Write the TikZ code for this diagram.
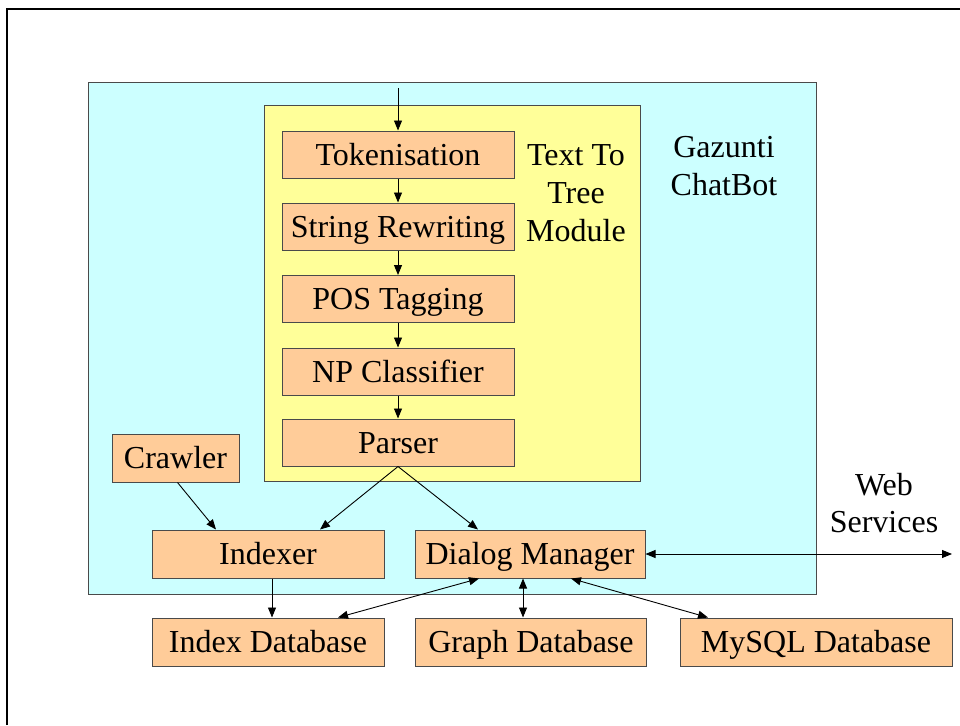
\documentclass[tikz,border=0pt]{standalone}
\usepackage{fontspec}
\setmainfont{Liberation Serif}
\usetikzlibrary{arrows.meta,calc}
\definecolor{cyanbg}{HTML}{CCFFFF}
\definecolor{yellowbg}{HTML}{FFFF99}
\definecolor{orangebox}{HTML}{FFCC99}
\definecolor{edge}{HTML}{4A4A4A}
\begin{document}
\begin{tikzpicture}[x=1pt,y=-1pt,
  box/.style={draw=edge,line width=1pt,fill=orangebox,minimum width=232pt,minimum height=47pt,inner sep=0pt,text height=27pt,text depth=6pt,font=\fontsize{32}{38}\selectfont},
  lbl/.style={align=center,inner sep=0pt},
  arr/.style={-{Triangle[length=10pt,width=8pt]},line width=0.9pt},
  darr/.style={{Triangle[length=10pt,width=8pt]}-{Triangle[length=10pt,width=8pt]},line width=0.9pt}]
\useasboundingbox (0,0) rectangle (960,725);
% outer frame (left and top only)
\draw[line width=2.2pt] (7,725) -- (7,9) -- (960,9);
% containers
\draw[draw=edge,line width=1pt,fill=cyanbg] (88,82) rectangle (816,594);
\draw[draw=edge,line width=1pt,fill=yellowbg] (264,105) rectangle (640,481);
% pipeline
\node[box] (tok) at (398,154.5) {Tokenisation};
\node[box] (str) at (398,226.5) {String Rewriting};
\node[box] (pos) at (398,299) {POS Tagging};
\node[box] (np) at (398,371.5) {NP Classifier};
\node[box] (par) at (398,442.5) {Parser};
\node[box,minimum width=127pt,minimum height=48pt] (cra) at (175.5,458) {Crawler};
\node[box,minimum height=48pt] (idx) at (268,554) {Indexer};
\node[box,minimum width=230pt,minimum height=48pt] (dm) at (530,554) {Dialog Manager};
\node[box,minimum height=48pt] (idb) at (268,642) {Index Database};
\node[box,minimum width=231pt,minimum height=48pt] (gdb) at (531,642) {Graph Database};
\node[box,minimum width=272pt,minimum height=48pt] (mdb) at (816,642) {MySQL Database};
% labels
\node[lbl,font=\fontsize{32}{38}\selectfont] (ttt) at (576,193) {Text To\\Tree\\Module};
\node[lbl,font=\fontsize{32}{38}\selectfont] (gaz) at (724,166) {Gazunti\\ChatBot};
\node[lbl,font=\fontsize{32}{37}\selectfont] (web) at (884,503) {Web\\Services};
% connectors
\coordinate (in) at (398,88);
\coordinate (wsend) at (952,554);
\draw[arr] (in) -- (tok.north);
\draw[arr] (tok) -- (str);
\draw[arr] (str) -- (pos);
\draw[arr] (pos) -- (np);
\draw[arr] (np) -- (par);
\draw[arr] (par.south) -- ([xshift=52pt]idx.north);
\draw[arr] (par.south) -- ([xshift=-52pt]dm.north);
\draw[arr] ([xshift=2pt]cra.south) -- ([xshift=-52pt]idx.north);
\draw[arr] ([xshift=4pt]idx.south) -- ([xshift=4pt]idb.north);
\draw[darr] ([xshift=-51pt]dm.south) -- ([xshift=70pt]idb.north);
\draw[darr] ([xshift=-7pt]dm.south) -- ([xshift=-8pt]gdb.north);
\draw[darr] ([xshift=41pt]dm.south) -- ([xshift=-108pt]mdb.north);
\draw[darr] (dm.east) -- (wsend);
\end{tikzpicture}
\end{document}
